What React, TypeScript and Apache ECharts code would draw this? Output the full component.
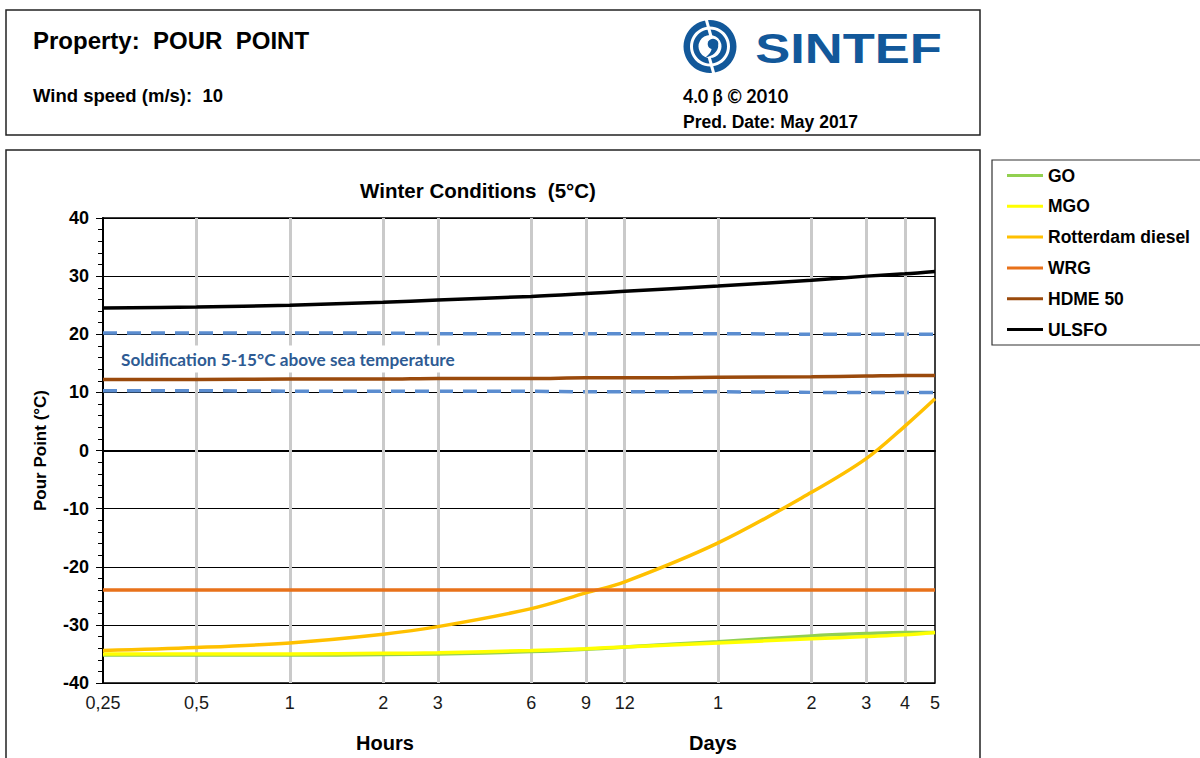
import React, { useEffect, useRef } from "react";
import * as echarts from "echarts";

// ---- data ----
const hours = [0.25, 0.5, 1, 2, 3, 6, 9, 12, 24, 48, 72, 96, 120];
const tickLabels = ["0,25", "0,5", "1", "2", "3", "6", "9", "12", "1", "2", "3", "4", "5"];

const seriesNames = ["GO", "MGO", "Rotterdam diesel", "WRG", "HDME 50", "ULSFO"];
const goValues = [-35.2, -35.2, -35.2, -35.1, -35.0, -34.6, -34.2, -33.8, -32.9, -31.9, -31.5, -31.3, -31.3];
const mgoValues = [-35.0, -35.0, -35.0, -34.9, -34.8, -34.4, -34.1, -33.8, -33.1, -32.4, -32.0, -31.7, -31.3];
const rotterdamValues = [-34.4, -33.9, -33.1, -31.6, -30.3, -27.2, -24.5, -22.6, -15.9, -7.2, -1.4, 4.2, 8.9];
const wrgValues = [-24, -24, -24, -24, -24, -24, -24, -24, -24, -24, -24, -24, -24];
const hdmeValues = [12.2, 12.2, 12.3, 12.3, 12.4, 12.4, 12.5, 12.5, 12.6, 12.7, 12.8, 12.9, 12.9];
const ulsfoValues = [24.5, 24.7, 25.0, 25.5, 25.9, 26.5, 27.0, 27.4, 28.3, 29.3, 30.0, 30.4, 30.8];
const solidUpper = [20.2, 20.2, 20.2, 20.2, 20.1, 20.1, 20.1, 20.1, 20.1, 20.0, 20.0, 20.0, 20.0];
const solidLower = [10.3, 10.3, 10.2, 10.2, 10.2, 10.2, 10.1, 10.1, 10.1, 10.0, 10.0, 10.0, 10.0];

const seriesColors = ["#92d050", "#ffff00", "#ffc000", "#e8711a", "#9a4a0c", "#000000"];
const yTicks = { min: -40, max: 40, interval: 10 };

const ARIAL = "'Liberation Sans', Arial, sans-serif";
const CALIBRI = "Lato, 'Open Sans', sans-serif";
const LOGO_BLUE = "#12589a";

echarts.graphic.registerShape(
  "commaTail",
  echarts.graphic.extendPath("M 8.3 -1 C 8 5 3 9.5 -4.5 11 C -0.5 7.5 1.2 5 1.6 2.5 Z", {})
);

export default function App() {
  const ref = useRef<HTMLDivElement>(null);

  useEffect(() => {
    if (!ref.current) return;
    const chart = echarts.init(ref.current, undefined, { renderer: "svg" });
    const valueSets = [goValues, mgoValues, rotterdamValues, wrgValues, hdmeValues, ulsfoValues];
    const toData = (vals: number[]) => hours.map((h, i) => [h, vals[i]]);

    const lastIdx = hours.length - 1;
    const gridMarkData = hours.map((h, i) => ({
      xAxis: h,
      label: { formatter: tickLabels[i] },
      lineStyle: {
        color: i === 0 || i === lastIdx ? "rgba(0,0,0,0)" : "#cacaca",
        width: 3,
        type: "solid",
      },
    }));

    const dataSeries = seriesNames.map((name, k) => ({
      name,
      type: "line",
      data: toData(valueSets[k]),
      smooth: 0.35,
      showSymbol: false,
      symbol: "none",
      color: seriesColors[k],
      lineStyle: { width: 3.5, color: seriesColors[k] },
      z: 5,
    }));

    const cx = 710;
    const cy = 46.5;

    const option: any = {
      animation: false,
      backgroundColor: "#ffffff",
      title: {
        text: "Winter Conditions  (5°C)",
        left: 478,
        top: 180,
        textAlign: "center",
        padding: 0,
        textStyle: { fontFamily: ARIAL, fontWeight: "bold", fontSize: 20.5, color: "#000" },
      },
      legend: {
        data: seriesNames,
        orient: "vertical",
        left: 1007,
        top: 166.5,
        padding: 0,
        itemGap: 12.8,
        itemWidth: 36,
        itemHeight: 3,
        icon: "rect",
        textStyle: { fontFamily: ARIAL, fontWeight: "bold", fontSize: 17.5, color: "#000" },
      },
      grid: {
        left: 103,
        top: 218,
        width: 832,
        height: 465,
        show: true,
        borderColor: "#000",
        borderWidth: 1.5,
        backgroundColor: "transparent",
      },
      xAxis: {
        type: "log",
        logBase: 2,
        min: hours[0],
        max: hours[lastIdx],
        axisLine: { show: true, lineStyle: { color: "#000", width: 2 } },
        axisTick: { show: false },
        axisLabel: { show: false },
        splitLine: { show: false },
        minorTick: { show: false },
        minorSplitLine: { show: false },
      },
      yAxis: {
        type: "value",
        min: yTicks.min,
        max: yTicks.max,
        interval: yTicks.interval,
        name: "Pour Point (°C)",
        nameLocation: "middle",
        nameRotate: 90,
        nameGap: 54,
        nameTextStyle: { fontFamily: ARIAL, fontWeight: "bold", fontSize: 17, color: "#000" },
        axisLine: { show: true, lineStyle: { color: "#000", width: 2 } },
        axisTick: { show: true, inside: false, length: 7, lineStyle: { color: "#000", width: 1 } },
        minorTick: { show: true, splitNumber: 5, length: 5, lineStyle: { color: "#000", width: 1 } },
        axisLabel: {
          margin: 14,
          fontFamily: ARIAL,
          fontWeight: "bold",
          fontSize: 18,
          color: "#000",
        },
        splitLine: { show: true, lineStyle: { color: "#000", width: 1 } },
      },
      series: [
        {
          name: "gridlines",
          type: "line",
          data: toData(wrgValues),
          showSymbol: false,
          symbol: "none",
          lineStyle: { opacity: 0 },
          silent: true,
          z: 1,
          markLine: {
            silent: true,
            symbol: ["none", "none"],
            animation: false,
            label: {
              show: true,
              position: "start",
              distance: 11,
              fontFamily: ARIAL,
              fontSize: 18,
              color: "#1a1a1a",
            },
            data: gridMarkData,
          },
        },
        {
          name: "solid upper",
          type: "line",
          data: toData(solidUpper),
          showSymbol: false,
          symbol: "none",
          lineStyle: { width: 3.5, color: "#5b8dd0", type: [14, 10] },
          z: 4,
        },
        {
          name: "solid lower",
          type: "line",
          data: toData(solidLower),
          showSymbol: false,
          symbol: "none",
          lineStyle: { width: 3.5, color: "#5b8dd0", type: [14, 10] },
          z: 4,
        },
        ...dataSeries,
      ],
      graphic: [
        // frames
        { type: "rect", z: 0, shape: { x: 6, y: 10, width: 974, height: 125 }, style: { fill: "none", stroke: "#222", lineWidth: 1.5 } },
        { type: "rect", z: 0, shape: { x: 6, y: 150, width: 974, height: 640 }, style: { fill: "none", stroke: "#222", lineWidth: 1.5 } },
        { type: "rect", z: 0, shape: { x: 992, y: 160, width: 230, height: 185 }, style: { fill: "none", stroke: "#333", lineWidth: 1.2 } },
        // header texts
        {
          type: "text", z: 10, x: 33, y: 40,
          style: { text: "Property:  POUR  POINT", fontFamily: ARIAL, fontWeight: "bold", fontSize: 24, fill: "#000", verticalAlign: "middle" },
        },
        {
          type: "text", z: 10, x: 33, y: 95,
          style: { text: "Wind speed (m/s):  10", fontFamily: ARIAL, fontWeight: "bold", fontSize: 18.5, fill: "#000", verticalAlign: "middle" },
        },
        {
          type: "text", z: 10, x: 683, y: 96,
          style: { text: "4.0 β © 2010", fontFamily: CALIBRI, fontWeight: "bold", fontSize: 18, fill: "#000", verticalAlign: "middle" },
        },
        {
          type: "text", z: 10, x: 683, y: 121.5,
          style: { text: "Pred. Date: May 2017", fontFamily: ARIAL, fontWeight: "bold", fontSize: 17.5, fill: "#000", verticalAlign: "middle" },
        },
        // SINTEF logo
        { type: "ring", z: 10, shape: { cx, cy, r: 26.5, r0: 20 }, style: { fill: LOGO_BLUE } },
        { type: "ring", z: 10, shape: { cx, cy, r: 17, r0: 11.5 }, style: { fill: LOGO_BLUE } },
        { type: "line", z: 11, shape: { x1: cx - 4, y1: cy - 28, x2: cx + 1, y2: cy - 10 }, style: { stroke: "#fff", lineWidth: 3 } },
        { type: "line", z: 11, shape: { x1: cx - 1, y1: cy + 10, x2: cx + 4, y2: cy + 28 }, style: { stroke: "#fff", lineWidth: 3 } },
        { type: "circle", z: 12, shape: { cx: cx + 3, cy: cy - 2.5, r: 5.3 }, style: { fill: LOGO_BLUE } },
        { type: "commaTail", z: 12, x: cx, y: cy, scaleX: 1, scaleY: 1, style: { fill: LOGO_BLUE } },
        {
          type: "text", z: 10, x: 848.5, y: 48, scaleX: 1.25, scaleY: 1,
          style: { text: "SINTEF", fontFamily: ARIAL, fontWeight: "bold", fontSize: 42, fill: LOGO_BLUE, align: "center", verticalAlign: "middle" },
        },
        // annotation
        {
          type: "text", z: 20, x: 114, y: 359,
          style: {
            text: "Soldification 5-15°C above sea temperature",
            fontFamily: CALIBRI, fontWeight: "bold", fontSize: 17.2, fill: "#2e5b93",
            verticalAlign: "middle", backgroundColor: "#ffffff", padding: [5, 7],
          },
        },
        // axis group titles
        {
          type: "text", z: 10, x: 385, y: 742.5,
          style: { text: "Hours", fontFamily: ARIAL, fontWeight: "bold", fontSize: 20, fill: "#000", align: "center", verticalAlign: "middle" },
        },
        {
          type: "text", z: 10, x: 713, y: 742.5,
          style: { text: "Days", fontFamily: ARIAL, fontWeight: "bold", fontSize: 20, fill: "#000", align: "center", verticalAlign: "middle" },
        },
      ],
    };

    chart.setOption(option);
    return () => chart.dispose();
  }, []);

  return (
    <div
      ref={ref}
      style={{ position: "absolute", left: 0, top: 0, width: 1200, height: 758 }}
    />
  );
}
